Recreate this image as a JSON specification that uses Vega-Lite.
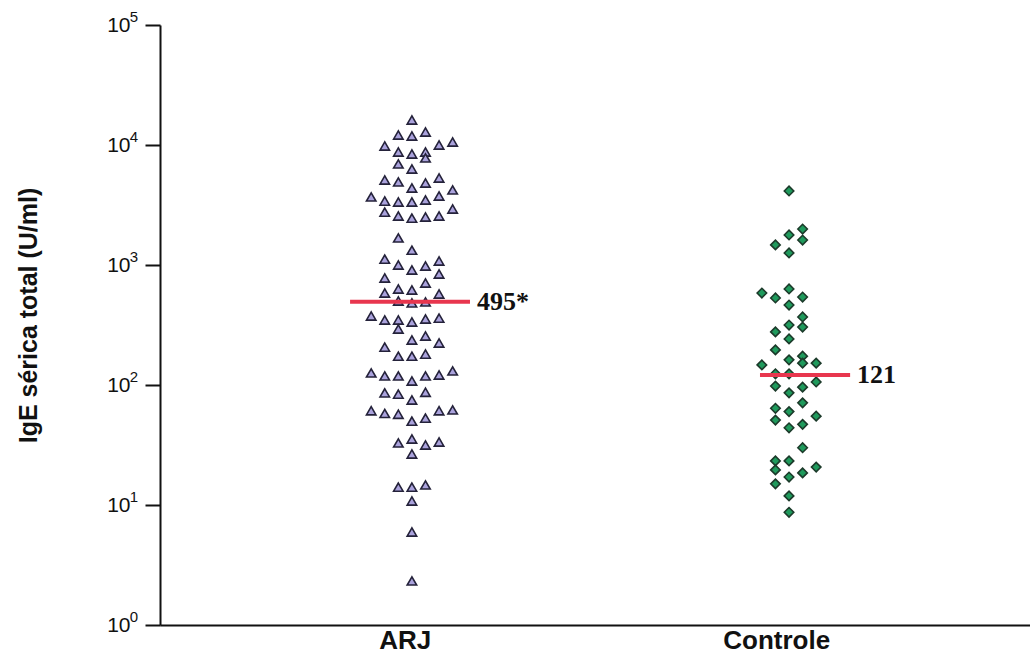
{
  "$schema": "https://vega.github.io/schema/vega-lite/v6.json",
  "autosize": {"type": "none"},
  "width": 870,
  "height": 600,
  "padding": {"left": 160, "top": 25, "right": 0, "bottom": 34},
  "background": "white",
  "config": {
    "view": {"stroke": null},
    "font": "Liberation Sans"
  },
  "datasets": {
    "points": [
      {"group": "ARJ", "pos": 1.000, "IgE": 16150},
      {"group": "ARJ", "pos": 0.964, "IgE": 12120},
      {"group": "ARJ", "pos": 1.000, "IgE": 11890},
      {"group": "ARJ", "pos": 1.036, "IgE": 12830},
      {"group": "ARJ", "pos": 0.928, "IgE": 9810},
      {"group": "ARJ", "pos": 1.072, "IgE": 10000},
      {"group": "ARJ", "pos": 1.108, "IgE": 10590},
      {"group": "ARJ", "pos": 0.964, "IgE": 8740},
      {"group": "ARJ", "pos": 1.000, "IgE": 8410},
      {"group": "ARJ", "pos": 1.036, "IgE": 8740},
      {"group": "ARJ", "pos": 1.036, "IgE": 7800},
      {"group": "ARJ", "pos": 0.964, "IgE": 6950},
      {"group": "ARJ", "pos": 1.000, "IgE": 6310},
      {"group": "ARJ", "pos": 0.928, "IgE": 5110},
      {"group": "ARJ", "pos": 0.964, "IgE": 4920},
      {"group": "ARJ", "pos": 1.000, "IgE": 4380},
      {"group": "ARJ", "pos": 1.036, "IgE": 4820},
      {"group": "ARJ", "pos": 1.072, "IgE": 5310},
      {"group": "ARJ", "pos": 0.892, "IgE": 3690},
      {"group": "ARJ", "pos": 0.928, "IgE": 3410},
      {"group": "ARJ", "pos": 0.964, "IgE": 3350},
      {"group": "ARJ", "pos": 1.000, "IgE": 3350},
      {"group": "ARJ", "pos": 1.036, "IgE": 3480},
      {"group": "ARJ", "pos": 1.072, "IgE": 3760},
      {"group": "ARJ", "pos": 1.108, "IgE": 4220},
      {"group": "ARJ", "pos": 0.928, "IgE": 2760},
      {"group": "ARJ", "pos": 0.964, "IgE": 2560},
      {"group": "ARJ", "pos": 1.000, "IgE": 2460},
      {"group": "ARJ", "pos": 1.036, "IgE": 2510},
      {"group": "ARJ", "pos": 1.072, "IgE": 2560},
      {"group": "ARJ", "pos": 1.108, "IgE": 2930},
      {"group": "ARJ", "pos": 0.964, "IgE": 1680},
      {"group": "ARJ", "pos": 1.000, "IgE": 1330},
      {"group": "ARJ", "pos": 0.928, "IgE": 1120},
      {"group": "ARJ", "pos": 0.964, "IgE": 1000},
      {"group": "ARJ", "pos": 1.000, "IgE": 908},
      {"group": "ARJ", "pos": 1.036, "IgE": 981},
      {"group": "ARJ", "pos": 1.072, "IgE": 1080},
      {"group": "ARJ", "pos": 1.072, "IgE": 841},
      {"group": "ARJ", "pos": 0.928, "IgE": 779},
      {"group": "ARJ", "pos": 0.928, "IgE": 584},
      {"group": "ARJ", "pos": 0.964, "IgE": 631},
      {"group": "ARJ", "pos": 1.000, "IgE": 619},
      {"group": "ARJ", "pos": 1.036, "IgE": 708},
      {"group": "ARJ", "pos": 1.072, "IgE": 573},
      {"group": "ARJ", "pos": 0.964, "IgE": 501},
      {"group": "ARJ", "pos": 1.000, "IgE": 483},
      {"group": "ARJ", "pos": 1.036, "IgE": 492},
      {"group": "ARJ", "pos": 0.892, "IgE": 376},
      {"group": "ARJ", "pos": 0.928, "IgE": 348},
      {"group": "ARJ", "pos": 0.964, "IgE": 348},
      {"group": "ARJ", "pos": 0.964, "IgE": 293},
      {"group": "ARJ", "pos": 1.000, "IgE": 335},
      {"group": "ARJ", "pos": 1.036, "IgE": 355},
      {"group": "ARJ", "pos": 1.072, "IgE": 361},
      {"group": "ARJ", "pos": 1.000, "IgE": 237},
      {"group": "ARJ", "pos": 1.036, "IgE": 256},
      {"group": "ARJ", "pos": 1.072, "IgE": 224},
      {"group": "ARJ", "pos": 0.928, "IgE": 207},
      {"group": "ARJ", "pos": 0.964, "IgE": 174},
      {"group": "ARJ", "pos": 1.000, "IgE": 174},
      {"group": "ARJ", "pos": 1.036, "IgE": 181},
      {"group": "ARJ", "pos": 0.892, "IgE": 126},
      {"group": "ARJ", "pos": 0.928, "IgE": 119},
      {"group": "ARJ", "pos": 0.964, "IgE": 119},
      {"group": "ARJ", "pos": 1.000, "IgE": 108},
      {"group": "ARJ", "pos": 1.036, "IgE": 119},
      {"group": "ARJ", "pos": 1.072, "IgE": 121},
      {"group": "ARJ", "pos": 1.108, "IgE": 131},
      {"group": "ARJ", "pos": 0.928, "IgE": 86},
      {"group": "ARJ", "pos": 0.964, "IgE": 84},
      {"group": "ARJ", "pos": 1.000, "IgE": 75},
      {"group": "ARJ", "pos": 1.036, "IgE": 87},
      {"group": "ARJ", "pos": 0.892, "IgE": 61},
      {"group": "ARJ", "pos": 0.928, "IgE": 58},
      {"group": "ARJ", "pos": 0.964, "IgE": 57},
      {"group": "ARJ", "pos": 1.000, "IgE": 50},
      {"group": "ARJ", "pos": 1.036, "IgE": 53},
      {"group": "ARJ", "pos": 1.072, "IgE": 61},
      {"group": "ARJ", "pos": 1.108, "IgE": 62},
      {"group": "ARJ", "pos": 0.964, "IgE": 32.9},
      {"group": "ARJ", "pos": 1.000, "IgE": 35.5},
      {"group": "ARJ", "pos": 1.036, "IgE": 31.6},
      {"group": "ARJ", "pos": 1.072, "IgE": 33.5},
      {"group": "ARJ", "pos": 1.000, "IgE": 26.6},
      {"group": "ARJ", "pos": 0.964, "IgE": 14.1},
      {"group": "ARJ", "pos": 1.000, "IgE": 14.1},
      {"group": "ARJ", "pos": 1.036, "IgE": 14.7},
      {"group": "ARJ", "pos": 1.000, "IgE": 10.8},
      {"group": "ARJ", "pos": 1.000, "IgE": 5.96},
      {"group": "ARJ", "pos": 1.000, "IgE": 2.33},
      {"group": "Controle", "pos": 2.000, "IgE": 4140},
      {"group": "Controle", "pos": 2.036, "IgE": 1995},
      {"group": "Controle", "pos": 2.000, "IgE": 1780},
      {"group": "Controle", "pos": 2.036, "IgE": 1615},
      {"group": "Controle", "pos": 1.964, "IgE": 1470},
      {"group": "Controle", "pos": 2.000, "IgE": 1260},
      {"group": "Controle", "pos": 1.928, "IgE": 584},
      {"group": "Controle", "pos": 1.964, "IgE": 531},
      {"group": "Controle", "pos": 2.000, "IgE": 631},
      {"group": "Controle", "pos": 2.036, "IgE": 541},
      {"group": "Controle", "pos": 2.000, "IgE": 464},
      {"group": "Controle", "pos": 2.036, "IgE": 369},
      {"group": "Controle", "pos": 2.000, "IgE": 316},
      {"group": "Controle", "pos": 2.036, "IgE": 304},
      {"group": "Controle", "pos": 1.964, "IgE": 277},
      {"group": "Controle", "pos": 2.000, "IgE": 242},
      {"group": "Controle", "pos": 1.964, "IgE": 196},
      {"group": "Controle", "pos": 2.036, "IgE": 174},
      {"group": "Controle", "pos": 2.000, "IgE": 162},
      {"group": "Controle", "pos": 1.928, "IgE": 147},
      {"group": "Controle", "pos": 2.036, "IgE": 152},
      {"group": "Controle", "pos": 2.072, "IgE": 152},
      {"group": "Controle", "pos": 1.964, "IgE": 124},
      {"group": "Controle", "pos": 2.000, "IgE": 124},
      {"group": "Controle", "pos": 1.964, "IgE": 98},
      {"group": "Controle", "pos": 2.000, "IgE": 86},
      {"group": "Controle", "pos": 2.036, "IgE": 96},
      {"group": "Controle", "pos": 2.072, "IgE": 106},
      {"group": "Controle", "pos": 1.964, "IgE": 64},
      {"group": "Controle", "pos": 2.000, "IgE": 60},
      {"group": "Controle", "pos": 2.036, "IgE": 71},
      {"group": "Controle", "pos": 1.964, "IgE": 51},
      {"group": "Controle", "pos": 2.000, "IgE": 44},
      {"group": "Controle", "pos": 2.036, "IgE": 47},
      {"group": "Controle", "pos": 2.072, "IgE": 55},
      {"group": "Controle", "pos": 2.036, "IgE": 30},
      {"group": "Controle", "pos": 1.964, "IgE": 23.3},
      {"group": "Controle", "pos": 2.000, "IgE": 23.3},
      {"group": "Controle", "pos": 1.964, "IgE": 19.6},
      {"group": "Controle", "pos": 2.000, "IgE": 17.1},
      {"group": "Controle", "pos": 2.036, "IgE": 18.5},
      {"group": "Controle", "pos": 2.072, "IgE": 20.7},
      {"group": "Controle", "pos": 1.964, "IgE": 15},
      {"group": "Controle", "pos": 2.000, "IgE": 11.9},
      {"group": "Controle", "pos": 2.000, "IgE": 8.7}
    ],
    "medians": [
      {"group": "ARJ", "start": 0.836, "end": 1.154, "median": 495, "label": "495*"},
      {"group": "Controle", "start": 1.923, "end": 2.162, "median": 121, "label": "121"}
    ],
    "exponents": [
      {"tick": 1, "exp": "0"},
      {"tick": 10, "exp": "1"},
      {"tick": 100, "exp": "2"},
      {"tick": 1000, "exp": "3"},
      {"tick": 10000, "exp": "4"},
      {"tick": 100000, "exp": "5"}
    ]
  },
  "layer": [
    {
      "data": {"name": "points"},
      "mark": {"type": "point", "filled": true, "size": 90, "strokeWidth": 1.6, "opacity": 1},
      "encoding": {
        "x": {
          "field": "pos", "type": "quantitative",
          "scale": {"domain": [0.332, 2.639], "nice": false, "zero": false},
          "axis": {
            "title": null,
            "values": [0.981, 1.966],
            "labelExpr": "datum.value < 1.5 ? 'ARJ' : 'Controle'",
            "ticks": false,
            "grid": false,
            "domainColor": "#111111",
            "domainWidth": 2,
            "labelFont": "Liberation Sans",
            "labelFontWeight": "bold",
            "labelFontSize": 26,
            "labelColor": "#111111",
            "labelPadding": 2,
            "labelBaseline": "top",
            "labelFlush": false
          }
        },
        "y": {
          "field": "IgE", "type": "quantitative",
          "scale": {"type": "log", "domain": [1, 100000], "nice": false},
          "axis": {
            "title": "IgE sérica total (U/ml)",
            "values": [1, 10, 100, 1000, 10000, 100000],
            "labelExpr": "'10'",
            "grid": false,
            "tickSize": 15,
            "tickWidth": 2,
            "tickColor": "#111111",
            "domainColor": "#111111",
            "domainWidth": 2,
            "labelFont": "Liberation Sans",
            "labelFontSize": 21,
            "labelColor": "#111111",
            "labelPadding": 15,
            "labelFlush": false,
            "titleFont": "Liberation Sans",
            "titleFontWeight": "bold",
            "titleFontSize": 25,
            "titleColor": "#111111",
            "titleX": -132,
            "titleY": 290,
            "titleAngle": -90,
            "titleAlign": "center",
            "titleBaseline": "middle"
          }
        },
        "shape": {
          "field": "group", "type": "nominal",
          "scale": {"domain": ["ARJ", "Controle"], "range": ["triangle-up", "diamond"]},
          "legend": null
        },
        "fill": {
          "field": "group", "type": "nominal",
          "scale": {"domain": ["ARJ", "Controle"], "range": ["#aaa2dc", "#1f9a5c"]},
          "legend": null
        },
        "stroke": {
          "field": "group", "type": "nominal",
          "scale": {"domain": ["ARJ", "Controle"], "range": ["#24223a", "#1c3a2a"]},
          "legend": null
        }
      }
    },
    {
      "data": {"name": "exponents"},
      "mark": {"type": "text", "align": "center", "baseline": "middle", "dx": -26, "dy": -8, "font": "Liberation Sans", "fontSize": 15, "color": "#111111"},
      "encoding": {
        "x": {"datum": 0.332, "type": "quantitative"},
        "y": {"field": "tick", "type": "quantitative"},
        "text": {"field": "exp"}
      }
    },
    {
      "data": {"name": "medians"},
      "mark": {"type": "rule", "color": "#e8364e", "strokeWidth": 4},
      "encoding": {
        "x": {"field": "start", "type": "quantitative"},
        "x2": {"field": "end"},
        "y": {"field": "median", "type": "quantitative"}
      }
    },
    {
      "data": {"name": "medians"},
      "mark": {"type": "text", "align": "left", "baseline": "middle", "dx": 7, "font": "Liberation Serif", "fontSize": 26, "fontWeight": "bold", "color": "#111111"},
      "encoding": {
        "x": {"field": "end", "type": "quantitative"},
        "y": {"field": "median", "type": "quantitative"},
        "text": {"field": "label"}
      }
    }
  ]
}
